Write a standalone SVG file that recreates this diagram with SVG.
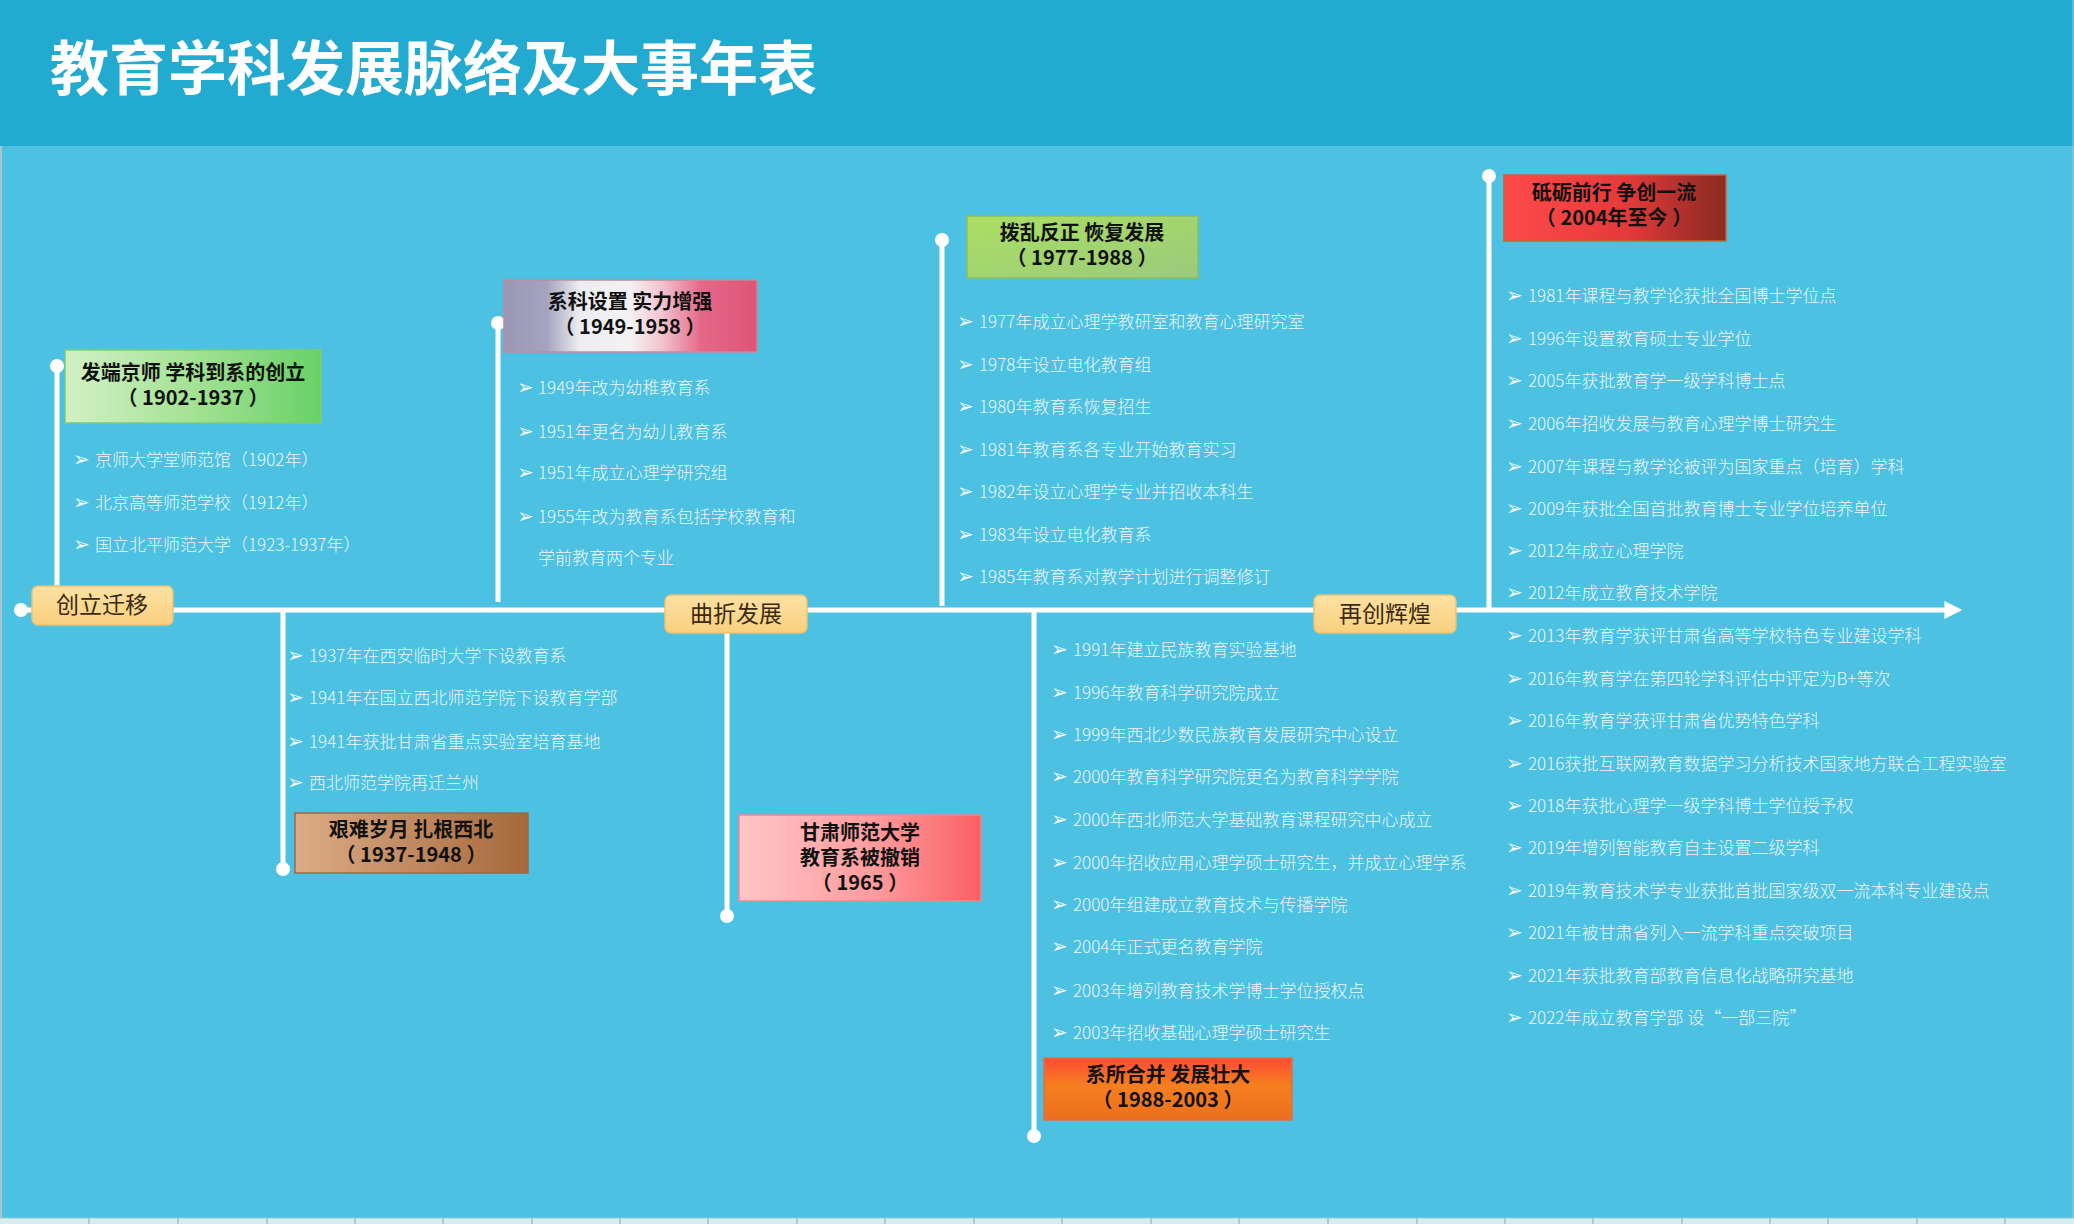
<svg xmlns="http://www.w3.org/2000/svg" width="2074" height="1224" viewBox="0 0 2074 1224">
<defs>
<linearGradient id="g1" x1="0" y1="0" x2="1" y2="0"><stop offset="0" stop-color="#D2F1C6"/><stop offset="0.5" stop-color="#A4E294"/><stop offset="1" stop-color="#68D167"/></linearGradient>
<linearGradient id="g2" x1="0" y1="0" x2="1" y2="0"><stop offset="0" stop-color="#DCAC86"/><stop offset="1" stop-color="#A6683A"/></linearGradient>
<linearGradient id="g3" x1="0" y1="0" x2="1" y2="0"><stop offset="0" stop-color="#9898B6"/><stop offset="0.17" stop-color="#A4A4C0"/><stop offset="0.3" stop-color="#EDEDF1"/><stop offset="0.5" stop-color="#F3F1F3"/><stop offset="0.62" stop-color="#F2C6D0"/><stop offset="0.78" stop-color="#E46888"/><stop offset="1" stop-color="#DF5476"/></linearGradient>
<linearGradient id="g4" x1="0" y1="0" x2="1" y2="0"><stop offset="0" stop-color="#FFC6C8"/><stop offset="0.55" stop-color="#FF9C9E"/><stop offset="1" stop-color="#F96064"/></linearGradient>
<linearGradient id="g5" x1="0" y1="0" x2="1" y2="1"><stop offset="0" stop-color="#ABDF62"/><stop offset="1" stop-color="#9ACA7C"/></linearGradient>
<linearGradient id="g6" x1="0" y1="0" x2="0" y2="1"><stop offset="0" stop-color="#FF4A36"/><stop offset="0.45" stop-color="#F5801F"/><stop offset="1" stop-color="#EC6E1E"/></linearGradient>
<linearGradient id="g7" x1="0" y1="0" x2="1" y2="0"><stop offset="0" stop-color="#FF4A4A"/><stop offset="0.55" stop-color="#E43A3A"/><stop offset="1" stop-color="#8A2A22"/></linearGradient>
<linearGradient id="gl" x1="0" y1="0" x2="0" y2="1"><stop offset="0" stop-color="#FDE2A4"/><stop offset="1" stop-color="#F9CF7E"/></linearGradient>
<marker id="arr" viewBox="0 0 10 10" refX="2" refY="5" markerWidth="4" markerHeight="3.6" orient="auto" markerUnits="strokeWidth"><path d="M0,0 L10,5 L0,10 Z" fill="#FFFFFF"/></marker>
</defs>
<style>
.title{font-family:"Noto Sans CJK SC","Liberation Sans",sans-serif;font-weight:700;font-size:59px;fill:#FFFFFF}
.bt{font-family:"Noto Sans CJK SC","Liberation Sans",sans-serif;font-weight:700;font-size:20px;fill:#111111;text-anchor:middle}
.lb{font-family:"Noto Sans CJK SC","Liberation Sans",sans-serif;font-weight:400;font-size:23px;fill:#3A2A12;text-anchor:middle}
.it{font-family:"Noto Sans CJK SC","Liberation Sans",sans-serif;font-weight:300;font-size:17px;fill:#EDF7FA}
.bu{font-family:"DejaVu Sans",sans-serif;font-size:20px;fill:#F2FAFC}
.ln{stroke:#FFFFFF;stroke-width:5;fill:none}
.dot{fill:#FFFFFF}
.lab{fill:url(#gl);stroke:#E9C274;stroke-width:1.5}
.box{stroke-width:1.5}
</style>
<rect x="0" y="0" width="2074" height="1224" fill="#4CC1E1"/>
<rect x="0" y="0" width="2074" height="146" fill="#22AAD0"/>
<rect x="0" y="1218" width="2074" height="6" fill="#D6EEF0"/>
<line x1="0" y1="1218" x2="2074" y2="1218" stroke="#9CCAD4" stroke-width="1"/>
<g stroke="#8AAAB0" stroke-width="1">
<line x1="89" y1="1218" x2="89" y2="1224"/><line x1="178" y1="1218" x2="178" y2="1224"/><line x1="267" y1="1218" x2="267" y2="1224"/><line x1="355" y1="1218" x2="355" y2="1224"/><line x1="443" y1="1218" x2="443" y2="1224"/><line x1="532" y1="1218" x2="532" y2="1224"/><line x1="620" y1="1218" x2="620" y2="1224"/><line x1="708" y1="1218" x2="708" y2="1224"/><line x1="797" y1="1218" x2="797" y2="1224"/><line x1="885" y1="1218" x2="885" y2="1224"/><line x1="974" y1="1218" x2="974" y2="1224"/><line x1="1062" y1="1218" x2="1062" y2="1224"/><line x1="1151" y1="1218" x2="1151" y2="1224"/><line x1="1239" y1="1218" x2="1239" y2="1224"/><line x1="1328" y1="1218" x2="1328" y2="1224"/><line x1="1417" y1="1218" x2="1417" y2="1224"/><line x1="1505" y1="1218" x2="1505" y2="1224"/><line x1="1593" y1="1218" x2="1593" y2="1224"/><line x1="1682" y1="1218" x2="1682" y2="1224"/><line x1="1770" y1="1218" x2="1770" y2="1224"/><line x1="1828" y1="1218" x2="1828" y2="1224"/><line x1="1917" y1="1218" x2="1917" y2="1224"/><line x1="2005" y1="1218" x2="2005" y2="1224"/>
</g>
<line x1="1" y1="146" x2="1" y2="1218" stroke="#A8C4CC" stroke-width="2"/>
<line x1="2073" y1="0" x2="2073" y2="1218" stroke="#A8C4CC" stroke-width="1"/>
<text class="title" x="50" y="90">教育学科发展脉络及大事年表</text>

<g id="connectors">
<line class="ln" x1="21" y1="610" x2="1948" y2="610" marker-end="url(#arr)"/>
<circle class="dot" cx="21" cy="610" r="7"/>
<line class="ln" x1="57" y1="366" x2="57" y2="587"/><circle class="dot" cx="57" cy="366" r="7"/>
<line class="ln" x1="283" y1="612" x2="283" y2="869"/><circle class="dot" cx="283" cy="869" r="7"/>
<line class="ln" x1="498" y1="323" x2="498" y2="602"/><circle class="dot" cx="498" cy="323" r="7"/>
<line class="ln" x1="727" y1="630" x2="727" y2="916"/><circle class="dot" cx="727" cy="916" r="7"/>
<line class="ln" x1="942" y1="240" x2="942" y2="606"/><circle class="dot" cx="942" cy="240" r="7"/>
<line class="ln" x1="1034" y1="612" x2="1034" y2="1136"/><circle class="dot" cx="1034" cy="1136" r="7"/>
<line class="ln" x1="1489" y1="176" x2="1489" y2="608"/><circle class="dot" cx="1489" cy="176" r="7"/>
</g>

<g id="label-chuangli">
<rect class="lab" x="32" y="586" width="141" height="39" rx="6"/>
<text class="lb" x="102" y="613">创立迁移</text>
</g>
<g id="label-quzhe">
<rect class="lab" x="665" y="595" width="142" height="38" rx="6"/>
<text class="lb" x="736" y="622">曲折发展</text>
</g>
<g id="label-zaichuang">
<rect class="lab" x="1314" y="595" width="142" height="38" rx="6"/>
<text class="lb" x="1385" y="622">再创辉煌</text>
</g>

<g id="node-1902">
<rect class="box" x="65" y="350" width="256" height="73" fill="url(#g1)" stroke="#7CCB72"/>
<text class="bt" x="193" y="380">发端京师 学科到系的创立</text>
<text class="bt" x="193" y="405">（ 1902-1937 ）</text>
<text class="bu" x="73" y="466">➢</text><text class="it" x="95" y="466">京师大学堂师范馆（1902年）</text>
<text class="bu" x="73" y="509">➢</text><text class="it" x="95" y="509">北京高等师范学校（1912年）</text>
<text class="bu" x="73" y="551">➢</text><text class="it" x="95" y="551">国立北平师范大学（1923-1937年）</text>
</g>

<g id="node-1937">
<rect class="box" x="295" y="813" width="233" height="60" fill="url(#g2)" stroke="#9C6A48"/>
<text class="bt" x="411" y="837">艰难岁月 扎根西北</text>
<text class="bt" x="411" y="862">（ 1937-1948 ）</text>
<text class="bu" x="287" y="662">➢</text><text class="it" x="309" y="662">1937年在西安临时大学下设教育系</text>
<text class="bu" x="287" y="704">➢</text><text class="it" x="309" y="704">1941年在国立西北师范学院下设教育学部</text>
<text class="bu" x="287" y="748">➢</text><text class="it" x="309" y="748">1941年获批甘肃省重点实验室培育基地</text>
<text class="bu" x="287" y="789">➢</text><text class="it" x="309" y="789">西北师范学院再迁兰州</text>
</g>

<g id="node-1949">
<rect class="box" x="504" y="280" width="253" height="72" fill="url(#g3)" stroke="#C88898"/>
<text class="bt" x="630" y="309">系科设置 实力增强</text>
<text class="bt" x="630" y="334">（ 1949-1958 ）</text>
<text class="bu" x="517" y="394">➢</text><text class="it" x="538" y="394">1949年改为幼稚教育系</text>
<text class="bu" x="517" y="438">➢</text><text class="it" x="538" y="438">1951年更名为幼儿教育系</text>
<text class="bu" x="517" y="479">➢</text><text class="it" x="538" y="479">1951年成立心理学研究组</text>
<text class="bu" x="517" y="523">➢</text><text class="it" x="538" y="523">1955年改为教育系包括学校教育和</text>
<text class="it" x="538" y="564">学前教育两个专业</text>
</g>

<g id="node-1965">
<rect class="box" x="739" y="815" width="242" height="86" fill="url(#g4)" stroke="#E88A8E"/>
<text class="bt" x="860" y="840">甘肃师范大学</text>
<text class="bt" x="860" y="865">教育系被撤销</text>
<text class="bt" x="860" y="890">（ 1965 ）</text>
</g>

<g id="node-1977">
<rect class="box" x="967" y="216" width="231" height="62" fill="url(#g5)" stroke="#88C060"/>
<text class="bt" x="1082" y="240">拨乱反正 恢复发展</text>
<text class="bt" x="1082" y="265">（ 1977-1988 ）</text>
<text class="bu" x="957" y="328">➢</text><text class="it" x="979" y="328">1977年成立心理学教研室和教育心理研究室</text>
<text class="bu" x="957" y="371">➢</text><text class="it" x="979" y="371">1978年设立电化教育组</text>
<text class="bu" x="957" y="413">➢</text><text class="it" x="979" y="413">1980年教育系恢复招生</text>
<text class="bu" x="957" y="456">➢</text><text class="it" x="979" y="456">1981年教育系各专业开始教育实习</text>
<text class="bu" x="957" y="498">➢</text><text class="it" x="979" y="498">1982年设立心理学专业并招收本科生</text>
<text class="bu" x="957" y="541">➢</text><text class="it" x="979" y="541">1983年设立电化教育系</text>
<text class="bu" x="957" y="583">➢</text><text class="it" x="979" y="583">1985年教育系对教学计划进行调整修订</text>
</g>

<g id="node-1988">
<rect class="box" x="1044" y="1058" width="248" height="62" fill="url(#g6)" stroke="#E07040"/>
<text class="bt" x="1168" y="1082">系所合并 发展壮大</text>
<text class="bt" x="1168" y="1107">（ 1988-2003 ）</text>
<text class="bu" x="1051" y="656">➢</text><text class="it" x="1073" y="656">1991年建立民族教育实验基地</text>
<text class="bu" x="1051" y="699">➢</text><text class="it" x="1073" y="699">1996年教育科学研究院成立</text>
<text class="bu" x="1051" y="741">➢</text><text class="it" x="1073" y="741">1999年西北少数民族教育发展研究中心设立</text>
<text class="bu" x="1051" y="783">➢</text><text class="it" x="1073" y="783">2000年教育科学研究院更名为教育科学学院</text>
<text class="bu" x="1051" y="826">➢</text><text class="it" x="1073" y="826">2000年西北师范大学基础教育课程研究中心成立</text>
<text class="bu" x="1051" y="869">➢</text><text class="it" x="1073" y="869">2000年招收应用心理学硕士研究生，并成立心理学系</text>
<text class="bu" x="1051" y="911">➢</text><text class="it" x="1073" y="911">2000年组建成立教育技术与传播学院</text>
<text class="bu" x="1051" y="953">➢</text><text class="it" x="1073" y="953">2004年正式更名教育学院</text>
<text class="bu" x="1051" y="997">➢</text><text class="it" x="1073" y="997">2003年增列教育技术学博士学位授权点</text>
<text class="bu" x="1051" y="1039">➢</text><text class="it" x="1073" y="1039">2003年招收基础心理学硕士研究生</text>
</g>

<g id="node-2004">
<rect class="box" x="1504" y="175" width="222" height="66" fill="url(#g7)" stroke="#C86432"/>
<text class="bt" x="1614" y="200">砥砺前行 争创一流</text>
<text class="bt" x="1614" y="225">（ 2004年至今 ）</text>
<text class="bu" x="1506" y="302">➢</text><text class="it" x="1528" y="302">1981年课程与教学论获批全国博士学位点</text>
<text class="bu" x="1506" y="345">➢</text><text class="it" x="1528" y="345">1996年设置教育硕士专业学位</text>
<text class="bu" x="1506" y="387">➢</text><text class="it" x="1528" y="387">2005年获批教育学一级学科博士点</text>
<text class="bu" x="1506" y="430">➢</text><text class="it" x="1528" y="430">2006年招收发展与教育心理学博士研究生</text>
<text class="bu" x="1506" y="473">➢</text><text class="it" x="1528" y="473">2007年课程与教学论被评为国家重点（培育）学科</text>
<text class="bu" x="1506" y="515">➢</text><text class="it" x="1528" y="515">2009年获批全国首批教育博士专业学位培养单位</text>
<text class="bu" x="1506" y="557">➢</text><text class="it" x="1528" y="557">2012年成立心理学院</text>
<text class="bu" x="1506" y="599">➢</text><text class="it" x="1528" y="599">2012年成立教育技术学院</text>
<text class="bu" x="1506" y="642">➢</text><text class="it" x="1528" y="642">2013年教育学获评甘肃省高等学校特色专业建设学科</text>
<text class="bu" x="1506" y="685">➢</text><text class="it" x="1528" y="685">2016年教育学在第四轮学科评估中评定为B+等次</text>
<text class="bu" x="1506" y="727">➢</text><text class="it" x="1528" y="727">2016年教育学获评甘肃省优势特色学科</text>
<text class="bu" x="1506" y="770">➢</text><text class="it" x="1528" y="770">2016获批互联网教育数据学习分析技术国家地方联合工程实验室</text>
<text class="bu" x="1506" y="812">➢</text><text class="it" x="1528" y="812">2018年获批心理学一级学科博士学位授予权</text>
<text class="bu" x="1506" y="854">➢</text><text class="it" x="1528" y="854">2019年增列智能教育自主设置二级学科</text>
<text class="bu" x="1506" y="897">➢</text><text class="it" x="1528" y="897">2019年教育技术学专业获批首批国家级双一流本科专业建设点</text>
<text class="bu" x="1506" y="939">➢</text><text class="it" x="1528" y="939">2021年被甘肃省列入一流学科重点突破项目</text>
<text class="bu" x="1506" y="982">➢</text><text class="it" x="1528" y="982">2021年获批教育部教育信息化战略研究基地</text>
<text class="bu" x="1506" y="1024">➢</text><text class="it" x="1528" y="1024">2022年成立教育学部 设“一部三院”</text>
</g>
</svg>
